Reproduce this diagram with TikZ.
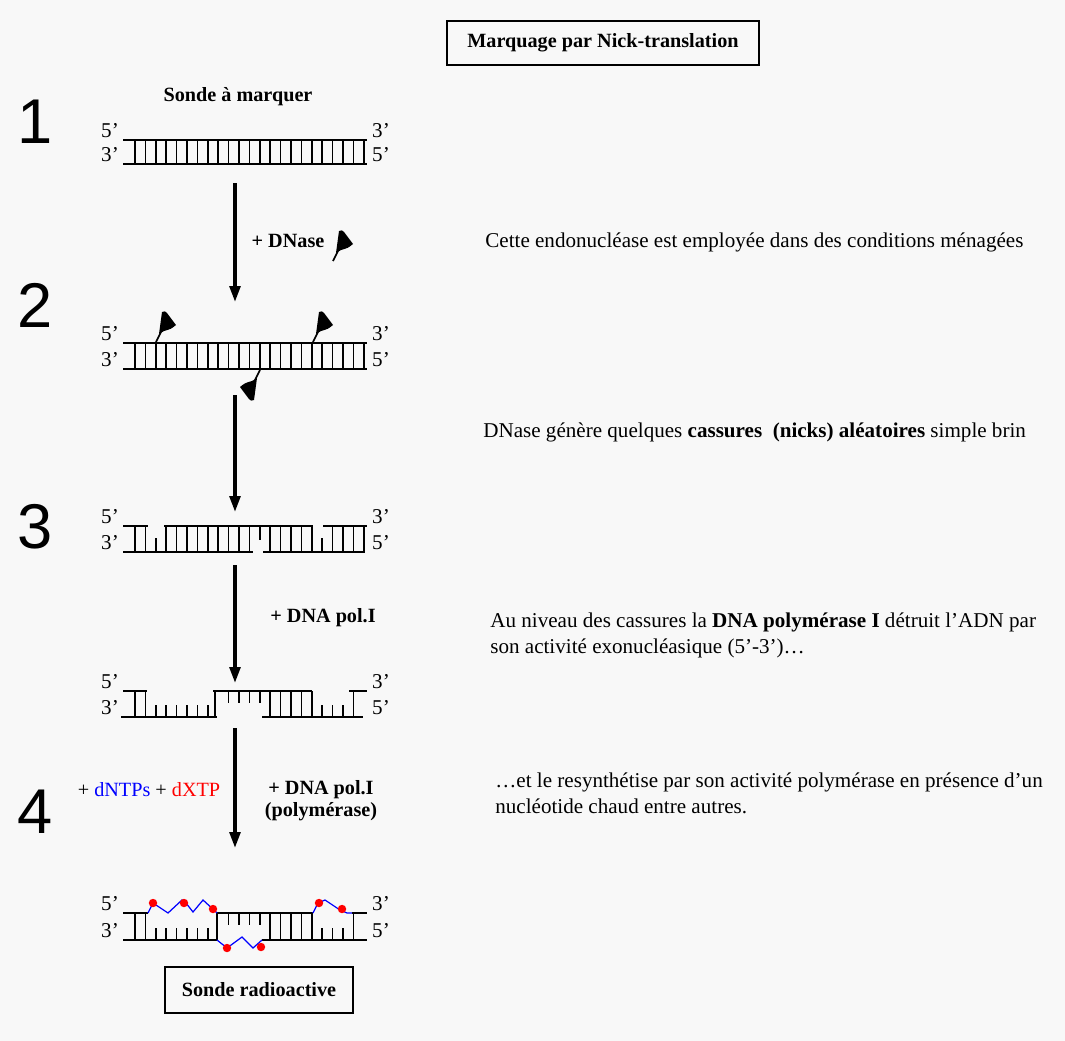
\documentclass[tikz,border=0pt]{standalone}
\usepackage{fontspec}
\setmainfont{Liberation Serif}
\newfontfamily\numfont{Liberation Sans}
\usetikzlibrary{arrows.meta}

\definecolor{paper}{RGB}{248,248,248}
\definecolor{ntpblue}{RGB}{0,0,255}
\definecolor{hotred}{RGB}{255,0,0}

\begin{document}
\begin{tikzpicture}[x=0.02cm, y=-0.02cm,
    strand/.style={line width=1.2pt},
    rung/.style={line width=0.9pt},
    newstrand/.style={ntpblue, line width=0.7pt},
    hot/.style={fill=hotred},
    arr/.style={-{Triangle[width=6pt,length=9pt]}, line width=2pt},
    stepnum/.style={font=\numfont\fontsize{36}{36}\selectfont, inner sep=0},
    endlbl/.style={font=\fontsize{12}{12}\selectfont, inner sep=0, anchor=base},
    note/.style={font=\fontsize{12}{14.7}\selectfont, inner sep=0, anchor=west, align=left},
    agent/.style={font=\bfseries\fontsize{11.5}{12.5}\selectfont, inner sep=0, align=center},
    framed/.style={draw, line width=1pt, font=\bfseries\fontsize{11.5}{14}\selectfont},
    pics/dnase/.style={code={
        \draw[line width=1pt] (0,0) -- (5,-10);
        \fill (3,-8) -- (6,-30) .. controls (9,-31) .. (11,-29) -- (20,-17)
            .. controls (15,-13) .. (8,-11) -- cycle;
    }}
]
\fill[paper] (0,0) rectangle (1065,1041);
\useasboundingbox (0,0) rectangle (1065,1041);

\node[framed, minimum width=6.24cm, minimum height=0.88cm] (title) at (603,43) {Marquage par Nick-translation};

\node[stepnum] (n1) at (35,122) {1};
\node[stepnum] (n2) at (35,305) {2};
\node[stepnum] (n3) at (35,527) {3};
\node[stepnum] (n4) at (35,812) {4};

\node[agent] (probe) at (238,97) {Sonde à marquer};

% brins et extremites
\foreach \yt/\yb/\k in {140/164/a, 343/369/b, 526/552/c, 691/717/d, 913/940/e} {
    \node[endlbl] (l5\k) at (110,\yt-3) {5’};
    \node[endlbl] (l3\k) at (110,\yb-3) {3’};
    \node[endlbl] (r3\k) at (381,\yt-3) {3’};
    \node[endlbl] (r5\k) at (381,\yb-3) {5’};
}

% 1 : sonde intacte
\draw[strand] (123,140) -- (367,140) (123,164) -- (367,164);
\foreach \i in {0,...,22}
    \draw[rung] ({135+10.4*\i},140) -- ({135+10.4*\i},164);

% 2 : DNase
\draw[strand] (123,343) -- (367,343) (123,369) -- (367,369);
\foreach \i in {0,...,22}
    \draw[rung] ({135+10.4*\i},343) -- ({135+10.4*\i},369);
\pic at (156,342) {dnase};
\pic at (313,342) {dnase};
\pic[rotate=180] at (260,370) {dnase};
\pic at (333,261) {dnase};

% 3 : cassures
\draw[strand] (123,526) -- (148,526) (164,526) -- (313,526) (323,526) -- (367,526);
\draw[strand] (123,552) -- (253,552) (263,552) -- (365,552);
\foreach \i in {0,1,3,4,5,6,7,8,9,10,11,13,14,15,16,17,19,20,21,22}
    \draw[rung] ({135+10.4*\i},526) -- ({135+10.4*\i},552);
\draw[rung] (155.8,552) -- (155.8,538) (322.2,552) -- (322.2,538) (259.8,526) -- (259.8,540);

% 3b : exonuclease
\draw[strand] (123,691) -- (147,691) (213,691) -- (312,691) (349,691) -- (367,691);
\draw[strand] (121,717) -- (217,717) (262,717) -- (363,717);
\foreach \i in {0,1,13,14,15,16,17,21}
    \draw[rung] ({135+10.4*\i},691) -- ({135+10.4*\i},717);
\foreach \i in {2,...,7,18,19,20}
    \draw[rung] ({135+10.4*\i},717) -- ({135+10.4*\i},705);
\foreach \i in {9,...,12}
    \draw[rung] ({135+10.4*\i},691) -- ({135+10.4*\i},703);
\draw[rung] (215,691) -- (215,717);

% 4 : resynthese
\draw[strand] (123,913) -- (148,913) (217,913) -- (313,913) (352,913) -- (367,913);
\draw[strand] (123,940) -- (217,940) (262,940) -- (367,940);
\foreach \i in {0,1,13,14,15,16,17,21}
    \draw[rung] ({135+10.4*\i},913) -- ({135+10.4*\i},940);
\foreach \i in {2,...,7,18,19,20}
    \draw[rung] ({135+10.4*\i},940) -- ({135+10.4*\i},928);
\foreach \i in {9,...,12}
    \draw[rung] ({135+10.4*\i},913) -- ({135+10.4*\i},925);
\draw[rung] (217,913) -- (217,940);
\draw[newstrand] (148,913) -- (153,903) -- (168,913) -- (182,900) -- (186,903)
    -- (193,912) -- (203,900) -- (215,911) -- (217,913);
\draw[newstrand] (313,913) -- (318,903) -- (325,900) -- (340,910) -- (347,913) -- (352,913);
\draw[newstrand] (217,940) -- (227,948) -- (242,937) -- (253,948) -- (262,940);
\foreach \p in {(153,903), (184,903), (213,909), (319,903), (342,909), (227,948), (261,947)}
    \fill[hot] \p circle[radius=2.4pt];

\node[framed, minimum width=3.76cm, minimum height=0.92cm] (hotprobe) at (259,990) {Sonde radioactive};

% fleches
\coordinate (a1s) at (235,183);
\coordinate (a1e) at (235,302);
\coordinate (a2s) at (235,395);
\coordinate (a2e) at (235,512);
\coordinate (a3s) at (235,565);
\coordinate (a3e) at (235,683);
\coordinate (a4s) at (235,728);
\coordinate (a4e) at (235,848);
\draw[arr] (a1s) -- (a1e);
\draw[arr] (a2s) -- (a2e);
\draw[arr] (a3s) -- (a3e);
\draw[arr] (a4s) -- (a4e);

\node[agent] (dnase) at (288,241) {+ DNase};
\node[agent] (pol1) at (323,618) {+ DNA pol.I};
\node[agent] (pol2) at (321,801) {+ DNA pol.I\\(polymérase)};
\node[font=\fontsize{11.5}{12.5}\selectfont, inner sep=0] (ntps) at (149,790)
    {+ \textcolor{ntpblue}{dNTPs} + \textcolor{hotred}{dXTP}};

\node[note] (t1) at (485,242) {Cette endonucléase est employée dans des conditions ménagées};
\node[note] (t2) at (483,432) {DNase génère quelques \textbf{cassures\ \ (nicks) aléatoires} simple brin};
\node[note] (t3) at (490,635) {Au niveau des cassures la \textbf{DNA polymérase I} détruit l’ADN par\\son activité exonucléasique (5’-3’)…};
\node[note] (t4) at (495,793) {…et le resynthétise par son activité polymérase en présence d’un\\nucléotide chaud entre autres.};
\end{tikzpicture}
\end{document}
